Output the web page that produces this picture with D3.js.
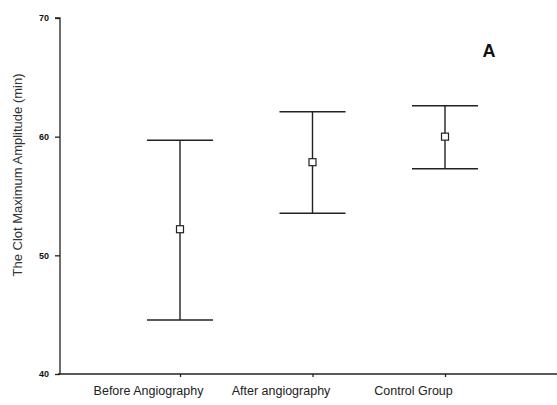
<!DOCTYPE html>
<html>
<head>
<meta charset="utf-8">
<script src="https://cdn.jsdelivr.net/npm/d3@7"></script>
<style>
  body { margin: 0; background: #fff; }
  svg { font-family: "Liberation Sans", Arial, sans-serif; }
</style>
</head>
<body>
<svg width="557" height="405"></svg>
<script>
  const groups = ['Before Angiography', 'After angiography', 'Control Group'];
  const means = [52.2, 57.85, 60.0];
  const lower = [44.55, 53.55, 57.3];
  const upper = [59.7, 62.1, 62.6];
  const yTicks = [40, 50, 60, 70];

  const svg = d3.select('svg');
  const margin = { top: 18, right: 0, bottom: 31, left: 60 };
  const width = +svg.attr('width');
  const height = +svg.attr('height');
  const innerHeight = height - margin.top - margin.bottom;

  const xScale = d3.scalePoint()
    .domain(groups)
    .range([180, 445]);

  const yScale = d3.scaleLinear()
    .domain([40, 70])
    .range([margin.top + innerHeight, margin.top]);

  const data = groups.map((g, i) => ({
    group: g, mean: means[i], lo: lower[i], hi: upper[i]
  }));

  // y axis
  const yAxis = d3.axisLeft(yScale)
    .tickValues(yTicks)
    .tickSize(5)
    .tickPadding(6);

  const yAxisG = svg.append('g')
    .attr('transform', `translate(${margin.left},0)`)
    .call(yAxis);
  yAxisG.select('.domain').attr('stroke', '#222').attr('stroke-width', 1.3)
    .attr('d', `M-5,${yScale(70)}H0V${yScale(40)}`);
  yAxisG.selectAll('.tick line').attr('stroke', '#222').attr('stroke-width', 1.3);
  yAxisG.selectAll('.tick text')
    .attr('font-size', 9)
    .attr('font-weight', 'bold')
    .attr('fill', '#111');

  // x axis (labels sit left of their ticks, as in the original)
  const xAxis = d3.axisBottom(xScale)
    .tickSize(3)
    .tickPadding(9);

  const xAxisG = svg.append('g')
    .attr('transform', `translate(0,${yScale(40)})`)
    .call(xAxis);
  xAxisG.select('.domain').attr('stroke', '#222').attr('stroke-width', 1.3)
    .attr('d', `M${margin.left - 2},0H${width}`);
  xAxisG.selectAll('.tick line').attr('stroke', '#222').attr('stroke-width', 1.3);
  xAxisG.selectAll('.tick text')
    .attr('font-size', 12.5)
    .attr('dx', -32)
    .attr('fill', '#222');

  // axis label
  svg.append('text')
    .attr('transform', 'rotate(-90)')
    .attr('x', -175)
    .attr('y', 22)
    .attr('text-anchor', 'middle')
    .attr('font-size', 13)
    .attr('fill', '#333')
    .text('The Clot Maximum Amplitude (min)');

  // error bars
  const capHalf = 33;
  const bars = svg.append('g').selectAll('g').data(data).enter().append('g')
    .attr('stroke', '#222')
    .attr('stroke-width', 1.4)
    .attr('fill', 'none');

  bars.append('line')
    .attr('x1', d => xScale(d.group)).attr('x2', d => xScale(d.group))
    .attr('y1', d => yScale(d.hi)).attr('y2', d => yScale(d.lo));
  bars.append('line')
    .attr('x1', d => xScale(d.group) - capHalf).attr('x2', d => xScale(d.group) + capHalf)
    .attr('y1', d => yScale(d.hi)).attr('y2', d => yScale(d.hi));
  bars.append('line')
    .attr('x1', d => xScale(d.group) - capHalf).attr('x2', d => xScale(d.group) + capHalf)
    .attr('y1', d => yScale(d.lo)).attr('y2', d => yScale(d.lo));
  bars.append('rect')
    .attr('x', d => xScale(d.group) - 3.5)
    .attr('y', d => yScale(d.mean) - 3.5)
    .attr('width', 7).attr('height', 7)
    .attr('fill', '#fff')
    .attr('stroke-width', 1.2);

  // panel letter
  svg.append('text')
    .attr('x', 489)
    .attr('y', 57)
    .attr('text-anchor', 'middle')
    .attr('font-size', 18)
    .attr('font-weight', 'bold')
    .attr('fill', '#111')
    .text('A');
</script>
</body>
</html>
